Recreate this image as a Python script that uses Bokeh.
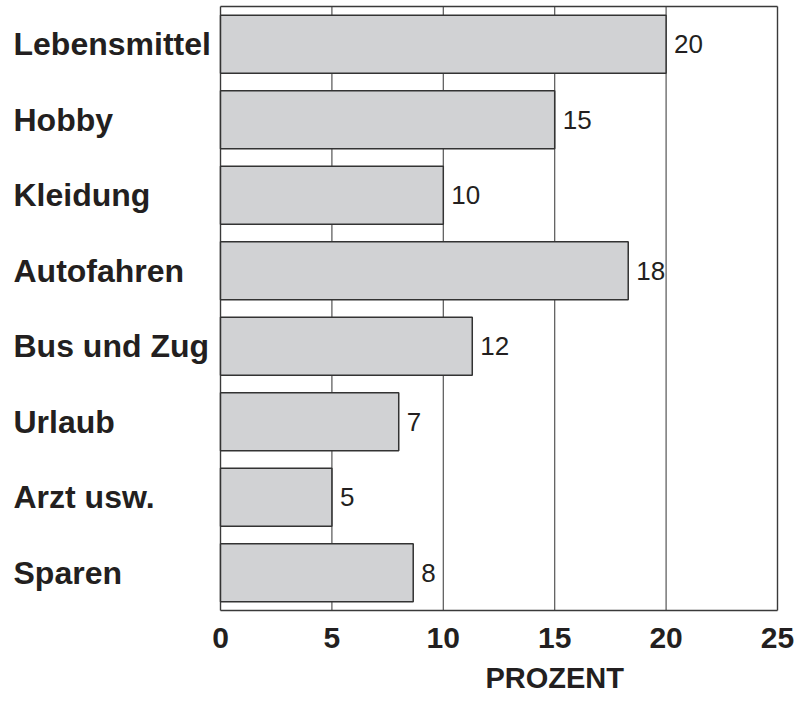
from bokeh.plotting import figure
from bokeh.models import ColumnDataSource, Range1d
from bokeh.core.properties import value
from bokeh.embed import file_html
from bokeh.resources import INLINE

# Data
categories = ["Lebensmittel", "Hobby", "Kleidung", "Autofahren",
              "Bus und Zug", "Urlaub", "Arzt usw.", "Sparen"]
bar_lengths = [20.0, 15.0, 10.0, 18.3, 11.3, 8.0, 5.0, 8.65]
value_labels = ["20", "15", "10", "18", "12", "7", "5", "8"]
x_ticks = [0, 5, 10, 15, 20, 25]
x_title = "PROZENT"
x_title_at = 15

FONT = "Liberation Sans"
INK = "#231f20"

# layout (pixels)
W, H = 796, 693
BOX_LEFT, BOX_RIGHT, BOX_TOP, BOX_BOTTOM = 220, 777, 6, 610

n = len(categories)
x_max = x_ticks[-1]
ppx = (BOX_RIGHT - BOX_LEFT) / x_max
ppy = (BOX_BOTTOM - BOX_TOP) / n

# category slots from top to bottom
ypos = [n - i - 0.5 for i in range(n)]

src = ColumnDataSource(dict(cat=categories, length=bar_lengths, lab=value_labels,
                            y=ypos, x0=[-BOX_LEFT / ppx] * n))

p = figure(width=W, height=H,
           x_range=Range1d(-BOX_LEFT / ppx, x_max + (W - BOX_RIGHT) / ppx),
           y_range=Range1d(-(H - BOX_BOTTOM) / ppy, n + BOX_TOP / ppy),
           x_axis_location=None, y_axis_location=None,
           output_backend="svg", toolbar_location=None,
           min_border=0)
p.grid.visible = False
p.outline_line_color = None
p.background_fill_color = "white"
p.border_fill_color = "white"

# vertical grid lines inside the box
grid_x = x_ticks[1:-1]
p.segment(x0=grid_x, x1=grid_x, y0=[0] * len(grid_x), y1=[n] * len(grid_x),
          line_color="#555555", line_width=1.2)

# box around the plotting area
p.segment(x0=[0, x_max, 0, 0], x1=[0, x_max, x_max, x_max],
          y0=[0, 0, 0, n], y1=[n, n, 0, n],
          line_color="#3a3a3a", line_width=1.4)

p.hbar(y="y", right="length", left=0, height=0.77, source=src,
       fill_color="#d1d2d4", line_color="#333333", line_width=1.5)

# value labels
p.text(x="length", y="y", text="lab", source=src,
       x_offset=8, text_baseline="middle", text_align="left",
       text_font=value(FONT), text_font_size="26px", text_color=INK)

# category labels, left aligned
p.text(x="x0", y="y", text="cat", source=src,
       x_offset=13, text_baseline="middle", text_align="left",
       text_font=value(FONT), text_font_size="32px", text_font_style="bold",
       text_color=INK)

# tick labels
p.text(x=x_ticks, y=[0] * len(x_ticks), text=[str(t) for t in x_ticks],
       y_offset=27, text_baseline="middle", text_align="center",
       text_font=value(FONT), text_font_size="30px", text_font_style="bold",
       text_color=INK)

# axis title
p.text(x=[x_title_at], y=[0], text=[x_title],
       y_offset=67, text_baseline="middle", text_align="center",
       text_font=value(FONT), text_font_size="29px", text_font_style="bold",
       text_color=INK)

open("out.html", "w").write(file_html(p, INLINE))
